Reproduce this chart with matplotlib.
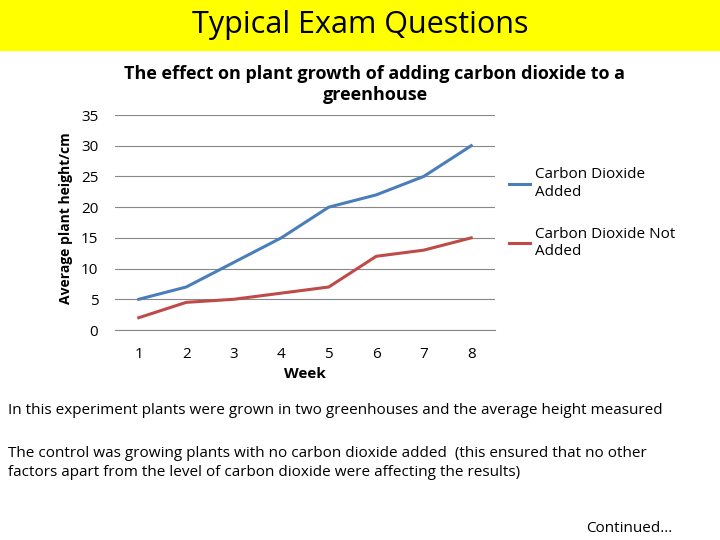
import matplotlib
matplotlib.use("Agg")
import matplotlib.pyplot as plt
from matplotlib.patches import Rectangle

weeks = [1, 2, 3, 4, 5, 6, 7, 8]
co2_added = [5, 7, 11, 15, 20, 22, 25, 30]
co2_not_added = [2, 4.5, 5, 6, 7, 12, 13, 15]
yticks = [0, 5, 10, 15, 20, 25, 30, 35]

plt.rcParams['font.family'] = ['Open Sans', 'DejaVu Sans']
fig = plt.figure(figsize=(7.2, 5.4), dpi=100)
fig.patches.append(Rectangle((0, 1 - 50/540), 1, 50/540, transform=fig.transFigure, color='#ffff00', zorder=0))
fig.text(0.5, 1 - 25/540, "Typical Exam Questions", ha='center', va='center', fontsize=22)

ax = fig.add_axes([115/720, 1 - 330/540, 380/720, 215/540])
ax.plot(weeks, co2_added, color='#4a7ebb', lw=2.2, label='Carbon Dioxide\nAdded')
ax.plot(weeks, co2_not_added, color='#be4b48', lw=2.2, label='Carbon Dioxide Not\nAdded')
ax.set_xlim(0.5, 8.5)
ax.set_ylim(0, 35)
ax.set_yticks(yticks)
ax.set_xticks(weeks)
ax.tick_params(axis='y', length=0, labelsize=11, pad=12)
ax.tick_params(axis='x', length=0, labelsize=11, pad=12)
ax.grid(axis='y', color='#888888', lw=0.8)
for s in ['top', 'right', 'left']:
    ax.spines[s].set_visible(False)
ax.spines['bottom'].set_color('#888888')
ax.set_axisbelow(True)
ax.set_xlabel("Week", fontsize=11, fontweight='bold', labelpad=0)
ax.xaxis.set_label_coords((305-115)/380, -0.17)
ax.set_ylabel("Average plant height/cm", fontsize=10, fontweight='bold')
ax.yaxis.set_label_coords(-0.11, 0.52)
ax.set_title("The effect on plant growth of adding carbon dioxide to a\ngreenhouse",
             fontsize=13, fontweight='bold', x=(375-115)/380, y=1.03)
ax.legend(loc='upper left', bbox_to_anchor=(1.0, 0.82), frameon=False, fontsize=11,
          handlelength=1.4, labelspacing=1.8, handletextpad=0.3)

fig.text(8/720, 1 - 410/540, "In this experiment plants were grown in two greenhouses and the average height measured",
         fontsize=11, va='center')
fig.text(8/720, 1 - 463/540, "The control was growing plants with no carbon dioxide added  (this ensured that no other\nfactors apart from the level of carbon dioxide were affecting the results)",
         fontsize=11, va='center', linespacing=1.4)
fig.text(672/720, 1 - 528/540, "Continued...", fontsize=11, ha='right', va='center')

fig.savefig("out.png", dpi=100)
